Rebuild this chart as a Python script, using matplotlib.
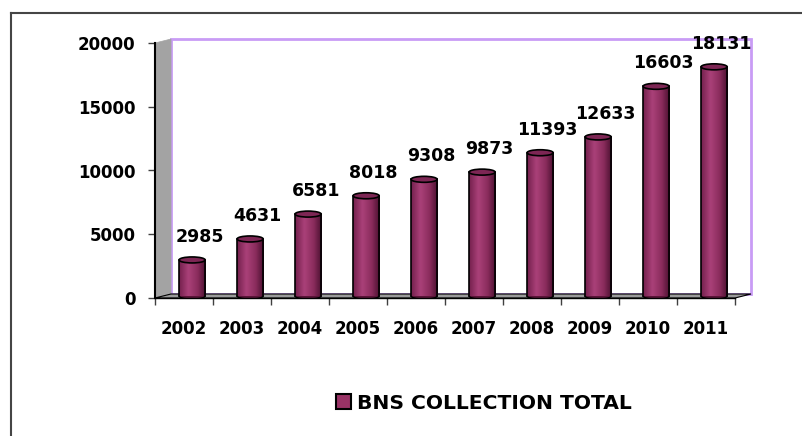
import numpy as np
import matplotlib
matplotlib.use('Agg')
from matplotlib import pyplot as plt
from matplotlib.colors import LinearSegmentedColormap
from matplotlib.patches import Rectangle, Ellipse, Polygon, Patch
from matplotlib.lines import Line2D

years = ['2002', '2003', '2004', '2005', '2006', '2007', '2008', '2009', '2010', '2011']
totals = [2985, 4631, 6581, 8018, 9308, 9873, 11393, 12633, 16603, 18131]
series_name = 'BNS COLLECTION TOTAL'

plt.rcParams['font.family'] = ['DejaVu Sans']
plt.rcParams['font.weight'] = 'bold'

W, H = 802, 436
fig = plt.figure(figsize=(W / 100, H / 100), dpi=100)
fig.patch.set_facecolor('white')

# axes box in pixels: x 155..735, y 43..298
ax = fig.add_axes([155 / W, (H - 298) / H, 580 / W, 255 / H])
ax.set_xlim(-0.5, 9.5)
ax.set_ylim(0, 20000)
ax.patch.set_alpha(0)

# 3d look: depth offset
dx = 16 / 58
dy = 4 / 255 * 20000

# back wall
back = Rectangle((-0.5 + dx, dy), 10, 20000, facecolor='white',
                 edgecolor='#c99cf5', linewidth=2, zorder=0, clip_on=False)
ax.add_patch(back)
# side wall
side = Polygon([(-0.5, 0), (-0.5, 20000), (-0.5 + dx, 20000 + dy), (-0.5 + dx, dy)],
               closed=True, facecolor='#a3a3a3', edgecolor='#a3a3a3', linewidth=0.5,
               zorder=1, clip_on=False)
ax.add_patch(side)
# floor
floor = Polygon([(-0.5, 0), (9.5, 0), (9.5 + dx, dy), (-0.5 + dx, dy)],
                closed=True, facecolor='#9a9a9a', edgecolor='black', linewidth=0.8,
                zorder=1, clip_on=False)
ax.add_patch(floor)

# cylinders
cmap = LinearSegmentedColormap.from_list('plum', [(0, '#74204d'), (0.35, '#aa4179'),
                                                  (0.7, '#8a2c5c'), (1.0, '#4a1030')])
grad = np.linspace(0, 1, 64).reshape(1, -1)
bw = 0.45
shift = 0.14
eh = 6 / 255 * 20000
for i, v in enumerate(totals):
    x0 = i + shift - bw / 2
    x1 = i + shift + bw / 2
    bottom = Ellipse((i + shift, dy / 2), bw, eh, facecolor='#5a1538',
                     edgecolor='black', linewidth=1, zorder=2)
    ax.add_patch(bottom)
    clip = Rectangle((x0, dy / 2), bw, v - dy / 2, transform=ax.transData)
    im = ax.imshow(grad, cmap=cmap, aspect='auto', extent=[x0, x1, dy / 2, v],
                   zorder=3, interpolation='bicubic')
    im.set_clip_path(clip)
    ax.plot([x0, x0], [dy / 2, v], color='black', lw=1.2, zorder=4)
    ax.plot([x1, x1], [dy / 2, v], color='black', lw=1.2, zorder=4)
    top = Ellipse((i + shift, v), bw, eh, facecolor='#7d2654',
                  edgecolor='black', linewidth=1.2, zorder=5)
    ax.add_patch(top)
    ax.annotate(str(v), (i + 0.27, v), xytext=(0, 10), textcoords='offset points',
                ha='center', va='bottom', fontsize=12.5, fontweight='bold', zorder=6,
                annotation_clip=False)

ax.set_xlim(-0.5, 9.5)
ax.set_ylim(0, 20000)

# axes styling
for s in ['top', 'right']:
    ax.spines[s].set_visible(False)
ax.spines['left'].set_linewidth(1.5)
ax.spines['left'].set_color('black')
ax.spines['bottom'].set_linewidth(1)
ax.spines['bottom'].set_color('black')
ax.spines['left'].set_zorder(7)
ax.spines['bottom'].set_zorder(7)

ax.set_yticks([0, 5000, 10000, 15000, 20000])
ax.tick_params(axis='y', length=5, width=1, color='#404040', pad=9, labelsize=12)
ax.set_xticks(range(len(years)))
ax.set_xticklabels(years)
ax.set_xticks(np.arange(-0.5, 10, 1), minor=True)
ax.tick_params(axis='x', which='major', length=0, pad=16, labelsize=12)
ax.tick_params(axis='x', which='minor', length=5, width=1, color='#404040')
for t in ax.get_xticklabels() + ax.get_yticklabels():
    t.set_fontweight('bold')

# legend
handle = Patch(facecolor='#993366', edgecolor='black', linewidth=1.5)
fig.legend([handle], [series_name], loc='center', bbox_to_anchor=(484 / W, 33 / H),
           frameon=False, prop={'size': 14.6, 'weight': 'bold'},
           handlelength=0.72, handleheight=0.72, handletextpad=0.3)

# outer chart border (top and left visible)
fig.add_artist(Line2D([11 / W, 11 / W], [0, (H - 13) / H], color='#454545', lw=1.5))
fig.add_artist(Line2D([11 / W, 1], [(H - 13) / H, (H - 13) / H], color='#454545', lw=1.5))

plt.savefig('out.png', dpi=100)
